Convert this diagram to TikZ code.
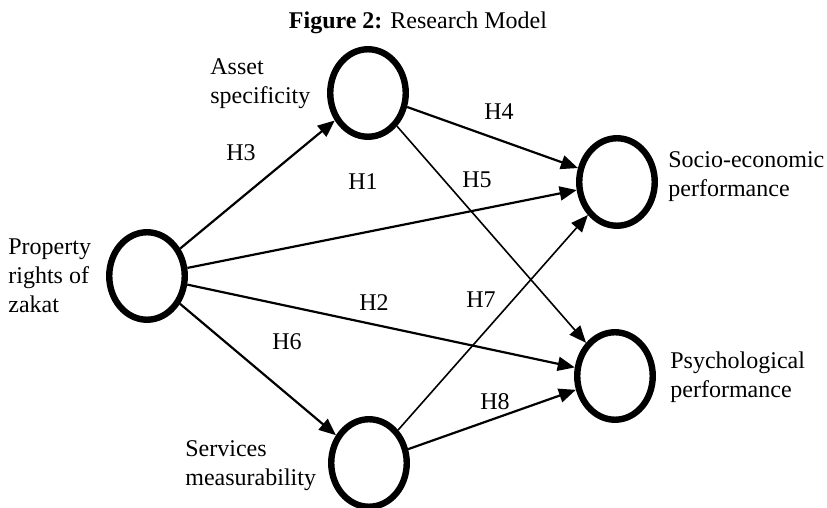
\documentclass[tikz,border=0pt]{standalone}
\usepackage{fontspec}
\setmainfont{Liberation Serif}
\usepackage{tikz}
\usetikzlibrary{shapes.geometric, arrows.meta}

\begin{document}
\begin{tikzpicture}[
    x=0.5pt, y=-0.5pt,
    >={Triangle[length=8.5pt, width=7pt]},
    construct/.style={ellipse, draw=black, line width=3.2pt, minimum width=37.75pt,
                      minimum height=43.75pt, inner sep=0pt},
    varname/.style={anchor=west, align=left, inner sep=0pt,
                    font=\fontsize{12}{14.5}\selectfont},
    hyp/.style={inner sep=1pt, font=\fontsize{12}{14.5}\selectfont},
    link/.style={->, line width=1.1pt},
    thinlink/.style={->, line width=0.8pt}
]
\useasboundingbox (0,0) rectangle (827,508);
\node[font=\fontsize{12}{14.5}\selectfont] (title) at (418,23) {\textbf{Figure 2:} Research Model};

% Constructs of the model.
\node[construct] (property) at (147,276) {};
\node[construct] (asset) at (368,93) {};
\node[construct] (services) at (369,463) {};
\node[construct] (socio) at (617,182) {};
\node[construct] (psycho) at (615,376) {};

\node[varname] (propertytxt) at (8,276) {Property\\rights of\\zakat};
\node[varname] (assettxt) at (210,84) {Asset\\specificity};
\node[varname] (servicestxt) at (185,466) {Services\\measurability};
\node[varname] (sociotxt) at (668,177) {Socio-economic\\performance};
\node[varname] (psychotxt) at (670,377) {Psychological\\performance};

% Hypothesised paths.
\draw[link] (property) -- (asset);
\draw[link] (property) -- (socio);
\draw[link] (property) -- (psycho);
\draw[link] (property) -- (services);
\draw[link] (asset) -- (socio);
\draw[thinlink] (asset) -- (psycho);
\draw[thinlink] (services) -- (socio);
\draw[link] (services) -- (psycho);

\node[hyp] (h1) at (363,182) {H1};
\node[hyp] (h2) at (374,303) {H2};
\node[hyp] (h3) at (241,153) {H3};
\node[hyp] (h4) at (499,112) {H4};
\node[hyp] (h5) at (477,180) {H5};
\node[hyp] (h6) at (287,342) {H6};
\node[hyp] (h7) at (481,300) {H7};
\node[hyp] (h8) at (495,402) {H8};
\end{tikzpicture}
\end{document}
